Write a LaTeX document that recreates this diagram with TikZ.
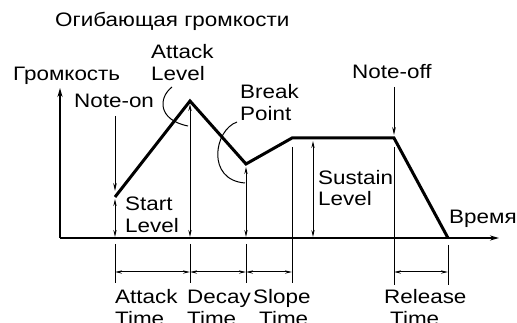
\documentclass[tikz,border=0pt]{standalone}
\usepackage{fontspec}
\setmainfont{Liberation Sans}[FakeStretch=1.15]
\usetikzlibrary{arrows.meta}
\begin{document}
\begin{tikzpicture}[x=1pt,y=-1pt,
  lbl/.style={anchor=base west,inner sep=0pt,font=\fontsize{19.5}{22}\selectfont,text=black},
  env/.style={line width=3pt,line join=miter},
  axis/.style={line width=1.6pt,-{Stealth[length=9pt,width=5pt]}},
  thin/.style={line width=1pt},
  dim/.style={line width=1pt,{Stealth[length=7pt,width=3.2pt]}-{Stealth[length=7pt,width=3.2pt]}},
  onearr/.style={line width=1pt,-{Stealth[length=8pt,width=3.6pt]}}]
\useasboundingbox (0,0) rectangle (517,323);
% key points
\coordinate (O) at (60,238);
\coordinate (Ytip) at (60,88);
\coordinate (Xtip) at (499,238);
\coordinate (S) at (115,197);
\coordinate (A) at (190,101);
\coordinate (B) at (246,164);
\coordinate (C) at (292,138);
\coordinate (D) at (394,138);
\coordinate (E) at (448,238);
% axes
\draw[axis] (O) -- (Ytip);
\draw[axis] (O) -- (Xtip);
% envelope
\draw[env] (S) -- (A) -- (B) -- (C) -- (D) -- (E);
% level arrows
\coordinate (nonTop) at (115,116);
\coordinate (nonEnd) at (115,191);
\draw[onearr] (nonTop) -- (nonEnd);
\coordinate (slTop) at (115,199);
\coordinate (slBot) at (115,237);
\draw[dim] (slTop) -- (slBot);
\coordinate (alTop) at (190,104);
\coordinate (alBot) at (190,237);
\draw[dim] (alTop) -- (alBot);
\coordinate (bpTop) at (246,167);
\coordinate (bpBot) at (246,237);
\draw[dim] (bpTop) -- (bpBot);
\coordinate (suTop) at (313,141);
\coordinate (suBot) at (313,237);
\draw[dim] (suTop) -- (suBot);
% note-off arrow
\coordinate (noffTop) at (394,87);
\coordinate (noffEnd) at (394,135);
\draw[onearr] (noffTop) -- (noffEnd);
% vertical lines
\coordinate (cTop) at (292,147);
\coordinate (cBot) at (292,283);
\draw[thin] (cTop) -- (cBot);
\coordinate (dTop) at (394,147);
\coordinate (dBot) at (394,285);
\draw[thin] (dTop) -- (dBot);
% ticks below axis
\coordinate (t1a) at (115,244); \coordinate (t1b) at (115,283);
\coordinate (t2a) at (190,244); \coordinate (t2b) at (190,283);
\coordinate (t3a) at (246,244); \coordinate (t3b) at (246,283);
\coordinate (t4a) at (448,245); \coordinate (t4b) at (448,285);
\draw[thin] (t1a) -- (t1b);
\draw[thin] (t2a) -- (t2b);
\draw[thin] (t3a) -- (t3b);
\draw[thin] (t4a) -- (t4b);
% time dimension arrows
\coordinate (d1) at (115,272); \coordinate (d2) at (190,272);
\coordinate (d3) at (246,272); \coordinate (d4) at (292,272);
\coordinate (d5) at (394,272); \coordinate (d6) at (448,272);
\draw[dim] (d1) -- (d2);
\draw[dim] (d2) -- (d3);
\draw[dim] (d3) -- (d4);
\draw[dim] (d5) -- (d6);
% leader curves
\coordinate (alL1) at (172,87); \coordinate (alL2) at (188,126);
\draw[thin] (alL1) .. controls (158,98) and (158,120) .. (alL2);
\coordinate (bpL1) at (237,122); \coordinate (bpL2) at (245,183);
\draw[thin] (bpL1) .. controls (214,130) and (206,180) .. (bpL2);
% labels
\node[lbl] (title) at (55,27) {Огибающая громкости};
\node[lbl] (ylab) at (13,81) {Громкость};
\node[lbl] (xlab) at (449,224) {Время};
\node[lbl] (non) at (74,108) {Note-on};
\node[lbl] (noff) at (352,79) {Note-off};
\node[lbl] (al1) at (151,59) {Attack};
\node[lbl] (al2) at (151,81) {Level};
\node[lbl] (bp1) at (240,99) {Break};
\node[lbl] (bp2) at (240,121) {Point};
\node[lbl] (sl1) at (125,211) {Start};
\node[lbl] (sl2) at (125,233) {Level};
\node[lbl] (su1) at (318,185) {Sustain};
\node[lbl] (su2) at (318,206) {Level};
\node[lbl] (at1) at (115,303) {Attack};
\node[lbl] (at2) at (115,325) {Time};
\node[lbl] (dt1) at (187,303) {Decay};
\node[lbl] (dt2) at (187,325) {Time};
\node[lbl] (st1) at (253,303) {Slope};
\node[lbl] (st2) at (259,325) {Time};
\node[lbl] (rt1) at (384,303) {Release};
\node[lbl] (rt2) at (390,325) {Time};
\end{tikzpicture}
\end{document}
